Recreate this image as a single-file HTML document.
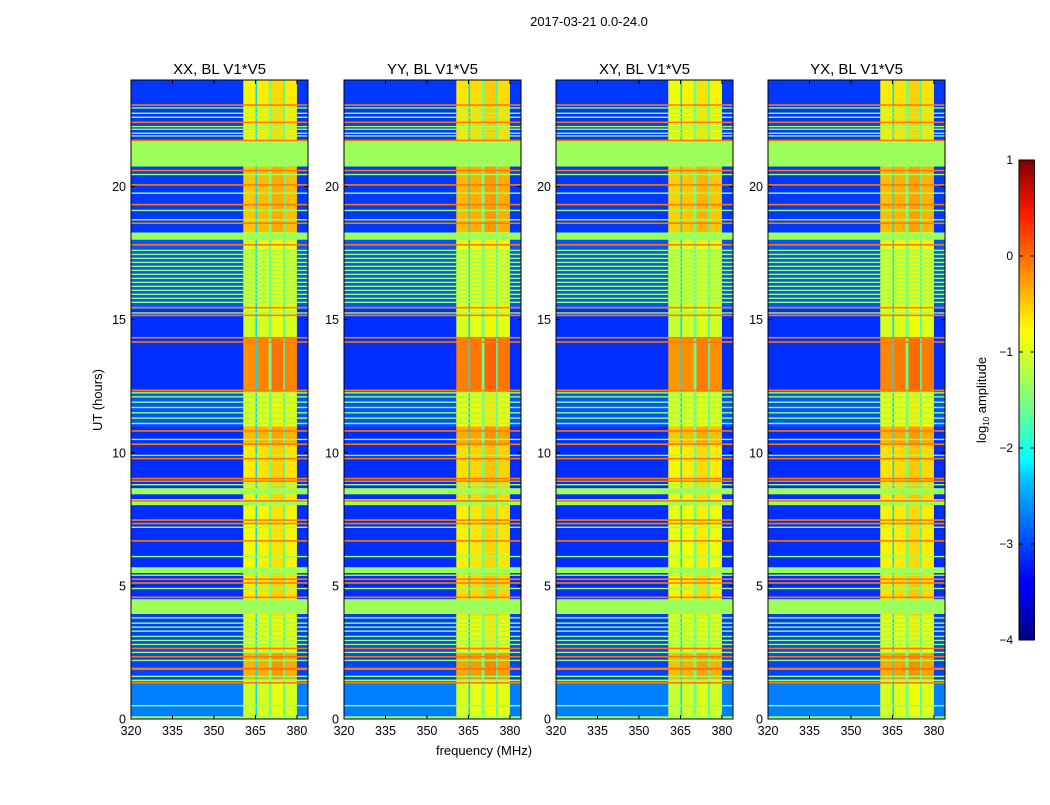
<!DOCTYPE html>
<html><head><meta charset="utf-8"><style>
body{margin:0;background:#fff;}
svg text{font-family:"Liberation Sans",sans-serif;fill:#000;}
</style></head><body>
<svg id="fig" width="1050" height="800" xmlns="http://www.w3.org/2000/svg">
<defs>
<linearGradient id="jetg" x1="0" y1="1" x2="0" y2="0">
<stop offset="0" stop-color="#000080"/><stop offset="0.11" stop-color="#0000ff"/><stop offset="0.125" stop-color="#0000ff"/>
<stop offset="0.34" stop-color="#00c8ff"/><stop offset="0.375" stop-color="#00ffff"/><stop offset="0.5" stop-color="#7dff7a"/>
<stop offset="0.64" stop-color="#ffff00"/><stop offset="0.66" stop-color="#fff000"/><stop offset="0.89" stop-color="#ff1800"/><stop offset="1" stop-color="#800000"/>
</linearGradient>
</defs>
<text x="589" y="26" font-size="13" text-anchor="middle">2017-03-21 0.0-24.0</text>
<text x="484" y="755" font-size="13" text-anchor="middle">frequency (MHz)</text>
<text transform="translate(102,400) rotate(-90)" font-size="13" text-anchor="middle">UT (hours)</text>
<g id="panels"></g>
<g>
<rect x="1019" y="160" width="15.5" height="480" fill="url(#jetg)" stroke="#000" stroke-width="1"/>
<g id="cbticks"></g>
<text transform="translate(986,400) rotate(-90)" font-size="13" text-anchor="middle">log<tspan font-size="8" dy="3">10</tspan><tspan dy="-3"> amplitude</tspan></text>
</g>
</svg>
<script>
// ---- data ----
const panelTitles = ["XX, BL V1*V5","YY, BL V1*V5","XY, BL V1*V5","YX, BL V1*V5"];
const panelGain = [0, 0.08, -0.05, 0.05];
const xTicks = [320,335,350,365,380];
const yTicks = [0,5,10,15,20];
const cbTicks = [1,0,-1,-2,-3,-4];
// background (off-band) level segments: [startHour, endHour, log10 level]
const bgStart = [0,   1.5, 3.9, 11,  12.4, 15.4, 18.3, 21.7];
const bgEnd   = [1.5, 3.9, 11,  12.4,15.4, 18.3, 21.7, 24];
const bgLevel = [-2.75,-3.05,-3.15,-2.95,-3.15,-2.95,-3.1,-3.1];
// in-band (bright) level segments
const brStart = [0,   1.5, 2.5, 3.9, 5.5, 8.3, 10.3, 11,  12.3, 14.3, 15.5, 18.3, 21.7];
const brEnd   = [1.5, 2.5, 3.9, 5.5, 8.3, 10.3, 11,  12.3, 14.3, 15.5, 18.3, 21.7, 24];
const brLevel = [-0.95,-0.35,-0.85,-0.65,-0.75,-0.65,-0.4,-0.85,-0.15,-0.95,-0.9,-0.45,-0.7];
// frequency columns: kind 0 = background, 1 = in-band (offset), 2 = fixed level
const fLo   = [320, 360.6, 365,   365.6, 369.8, 370.8, 375,  375.6, 380];
const fHi   = [360.6,365,  365.6, 369.8, 370.8, 375,   375.6,380,   384];
const fKind = [0,    1,    2,     1,     2,     1,     2,    1,     0];
const fVal  = [0,   -0.05, -2.3,  0,    -1.6,   0.1,  -1.9,  0,     0];
// fully flagged time bands
const flagStart = [0, 3.94, 5.48, 8.03, 8.44, 18.0, 20.75];
const flagEnd   = [0.1,4.5, 5.70, 8.26, 8.67, 18.27, 21.73];
// narrow lines
const orangeLines = [23.06,22.41,21.73,20.6,20.06,19.32,18.62,17.81,15.45,15.16,14.32,14.16,12.34,10.82,10.32,9.78,9.03,8.93,8.19,7.47,7.34,6.69,5.25,5.11,4.57,2.65,2.34,1.9,1.87,1.36];
const greenLines = [22.95,22.75,22.6,22.25,22.15,22.0,21.9,20.45,19.75,19.1,18.75,17.6,17.45,17.3,17.15,17.0,16.85,16.7,16.55,16.4,16.25,16.1,15.95,15.8,15.65,15.25,12.25,12.1,11.9,11.7,11.5,11.3,11.1,10.5,9.9,8.8,7.2,6.1,5.4,4.9,3.8,3.6,3.45,3.3,3.1,2.95,2.8,2.5,2.2,1.6,1.45,0.5];

// ---- layout ----
const NS="http://www.w3.org/2000/svg";
const panelLeft=[131,344,556,768], PW=177, PT=80, PB=719;
const fMin=320,fMax=384,tMin=0,tMax=24;
function jet(v){
  let t=Math.max(0,Math.min(1,(v+4)/5));
  function interp(pts){for(let i=1;i<pts.length;i++){if(t<=pts[i][0]){const a=pts[i-1],b=pts[i];return a[1]+(b[1]-a[1])*(t-a[0])/(b[0]-a[0]);}}return pts[pts.length-1][1];}
  const r=interp([[0,0],[0.35,0],[0.66,1],[0.89,1],[1,0.5]]);
  const g=interp([[0,0],[0.125,0],[0.375,1],[0.64,1],[0.91,0],[1,0]]);
  const b=interp([[0,0.5],[0.11,1],[0.34,1],[0.65,0],[1,0]]);
  return `rgb(${Math.round(r*255)},${Math.round(g*255)},${Math.round(b*255)})`;
}
function mk(tag,attrs,parent){const e=document.createElementNS(NS,tag);for(const k in attrs)e.setAttribute(k,attrs[k]);parent.appendChild(e);return e;}
const root=document.getElementById('panels');
for(let p=0;p<4;p++){
  const L=panelLeft[p];
  const xs=f=>L+(f-fMin)/(fMax-fMin)*PW;
  const ys=t=>PB-(t-tMin)/(tMax-tMin)*(PB-PT);
  const g=mk('g',{},root);
  
  
  for(let c=0;c<fLo.length;c++){
    const x0=xs(fLo[c]),x1=xs(fHi[c]);
    let S,E,V;
    if(fKind[c]===0){S=bgStart;E=bgEnd;V=bgLevel;} else {S=brStart;E=brEnd;V=brLevel;}
    for(let i=0;i<S.length;i++){
      let v = fKind[c]===0 ? V[i] : (fKind[c]===2 ? fVal[c] : V[i]+fVal[c]+panelGain[p]);
      const r=mk('rect',{x:x0,y:ys(E[i]),width:x1-x0+0.3,height:ys(S[i])-ys(E[i])+0.3,fill:jet(v)},g);
      
      
    }
  }
  for(let i=0;i<greenLines.length;i++){
    const r=mk('rect',{x:L,y:ys(greenLines[i])-0.7,width:PW,height:1.4,fill:jet(-1.3)},g);
    
    
  }
  for(let i=0;i<flagStart.length;i++){
    const r=mk('rect',{x:L,y:ys(flagEnd[i]),width:PW,height:ys(flagStart[i])-ys(flagEnd[i]),fill:jet(-1.3)},g);
    
    
  }
  for(let i=0;i<orangeLines.length;i++){
    const r=mk('rect',{x:L,y:ys(orangeLines[i])-0.8,width:PW,height:1.6,fill:jet(-0.1)},g);
    
    
  }
  const fr=mk('rect',{x:L,y:PT,width:PW,height:PB-PT,fill:'none',stroke:'#000','stroke-width':1},g);
  
  
  const tt=mk('text',{x:L+PW/2,y:PT-6,'font-size':15,'text-anchor':'middle'},g);
  tt.textContent=panelTitles[p];
  
  
  for(const f of xTicks){
    const x=xs(f);
    mk('line',{x1:x,x2:x,y1:PB,y2:PB-4,stroke:'#000'},g);
    mk('line',{x1:x,x2:x,y1:PT,y2:PT+4,stroke:'#000'},g);
    const t=mk('text',{x:x,y:PB+16,'font-size':12.5,'text-anchor':'middle'},g);
    t.textContent=f;
    
    
  }
  for(const h of yTicks){
    const y=ys(h);
    mk('line',{x1:L,x2:L+4,y1:y,y2:y,stroke:'#000'},g);
    mk('line',{x1:L+PW,x2:L+PW-4,y1:y,y2:y,stroke:'#000'},g);
    const t=mk('text',{x:L-5,y:y+4.5,'font-size':12.5,'text-anchor':'end'},g);
    t.textContent=h;
    
    
  }
}
const cb=document.getElementById('cbticks');
for(const v of cbTicks){
  const y=160+(1-v)/5*480;
  mk('line',{x1:1019,x2:1023,y1:y,y2:y,stroke:'#000'},cb);
  mk('line',{x1:1034.5,x2:1030.5,y1:y,y2:y,stroke:'#000'},cb);
  const t=mk('text',{x:1013,y:y+4,'font-size':12,'text-anchor':'end'},cb);
  t.textContent=v<0?'\u2212'+(-v):String(v);
  
  
}
</script>
</body></html>
